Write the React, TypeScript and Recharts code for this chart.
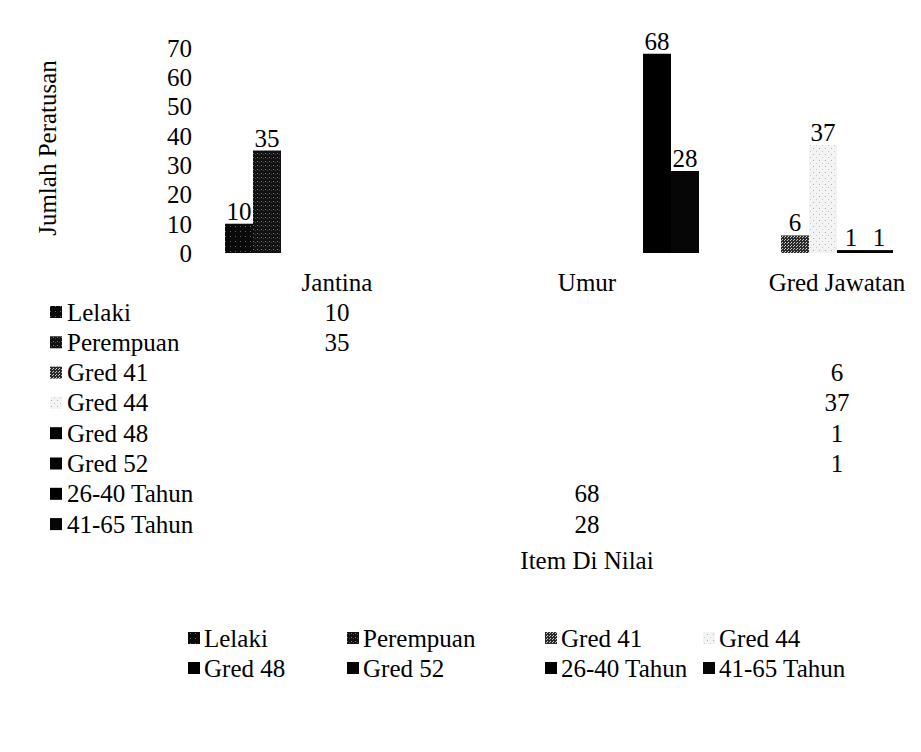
import React from 'react';
import { BarChart, Bar, XAxis, YAxis, LabelList, Legend, Customized } from 'recharts';

// ---------- data ----------
const categories = ['Jantina', 'Umur', 'Gred Jawatan'];
const seriesNames = ['Lelaki', 'Perempuan', 'Gred 41', 'Gred 44', 'Gred 48', 'Gred 52', '26-40 Tahun', '41-65 Tahun'];
const lelaki = [10, null, null];
const perempuan = [35, null, null];
const gred41 = [null, null, 6];
const gred44 = [null, null, 37];
const gred48 = [null, null, 1];
const gred52 = [null, null, 1];
const tahun2640 = [null, 68, null];
const tahun4165 = [null, 28, null];
const yTicks = [0, 10, 20, 30, 40, 50, 60, 70];
const yTitle = 'Jumlah Peratusan';
const xTitle = 'Item Di Nilai';

const seriesValues = [lelaki, perempuan, gred41, gred44, gred48, gred52, tahun2640, tahun4165];

// ---------- styles ----------
const seriesFills = [
  'url(#patLelaki)',
  'url(#patPerempuan)',
  'url(#patGred41)',
  'url(#patGred44)',
  '#000000',
  '#050505',
  '#000000',
  '#060606',
];
const FONT = 'Liberation Serif, Times New Roman, Times, serif';
const FS = 25;
const CHART_W = 954;
const CHART_H = 700;
const MARGIN_TOP = 40;
const X_AXIS_H = 455;
const PLOT_BOTTOM = CHART_H - X_AXIS_H;
const ROW0 = 59;
const ROW_STEP = 30.3;

const data = categories.map((c, i) => {
  const row: Record<string, any> = { category: c };
  seriesValues.forEach((vals, s) => {
    row['s' + s] = vals[i];
  });
  return row;
});

const textStyle = { fontFamily: FONT, fontSize: FS, fill: '#000' };

const T = (p: any) => (
  <text fontFamily={FONT} fontSize={FS} fill="#000" style={textStyle} dominantBaseline="central" {...p} />
);

const CategoryTick = (props: any) => {
  const { x, y, payload } = props;
  const i = categories.indexOf(payload.value);
  return (
    <g>
      <T x={x} y={y + 29} textAnchor="middle">
        {payload.value}
      </T>
      {seriesValues.map((vals, s) =>
        vals[i] == null ? null : (
          <T key={s} x={x} y={y + ROW0 + ROW_STEP * s} textAnchor="middle">
            {vals[i]}
          </T>
        )
      )}
    </g>
  );
};

const Extras = () => (
  <g>
    <defs>
      <pattern id="patLelaki" width="5" height="5" patternUnits="userSpaceOnUse">
        <rect width="5" height="5" fill="#0a0a0a" />
        <rect x="2" y="3" width="1" height="1" fill="#666" />
      </pattern>
      <pattern id="patPerempuan" width="4" height="4" patternUnits="userSpaceOnUse">
        <rect width="4" height="4" fill="#111" />
        <rect x="1" y="1" width="1" height="1" fill="#777" />
        <rect x="3" y="2" width="1" height="1" fill="#444" />
      </pattern>
      <pattern id="patGred41" width="3" height="3" patternUnits="userSpaceOnUse">
        <rect width="3" height="3" fill="#2a2a2a" />
        <rect x="0" y="0" width="1" height="1" fill="#d0d0d0" />
        <rect x="2" y="1" width="1" height="1" fill="#bbbbbb" />
      </pattern>
      <pattern id="patGred44" width="6" height="6" patternUnits="userSpaceOnUse">
        <rect width="6" height="6" fill="#f3f3f3" />
        <rect x="1" y="2" width="1" height="1" fill="#b0b0b0" />
        <rect x="4" y="5" width="1" height="1" fill="#c8c8c8" />
      </pattern>
    </defs>
    <T x={39} y={140} transform="rotate(-90 39 140)" textAnchor="middle">
      {yTitle}
    </T>
    {seriesNames.map((name, s) => {
      const cy = PLOT_BOTTOM + ROW0 + ROW_STEP * s;
      return (
        <g key={name}>
          <rect x={42} y={cy - 6} width={12} height={12} fill={seriesFills[s]} />
          <T x={59} y={cy}>
            {name}
          </T>
        </g>
      );
    })}
    <T x={579} y={552} textAnchor="middle">
      {xTitle}
    </T>
  </g>
);

const legendCols = [10, 169, 367, 525];
const legendRows = [18, 48];

const LegendContent = () => (
  <svg width={700} height={70} style={{ display: 'block' }}>
    {seriesNames.map((name, i) => {
      const x = legendCols[i % 4];
      const y = legendRows[Math.floor(i / 4)];
      return (
        <g key={name}>
          <rect x={x} y={y - 6} width={12} height={12} fill={seriesFills[i]} />
          <T x={x + 16} y={y}>
            {name}
          </T>
        </g>
      );
    })}
  </svg>
);

export default function App() {
  return (
    <div style={{ width: 905, height: CHART_H, overflow: 'hidden', background: '#fff', fontFamily: FONT }}>
      <BarChart
        width={CHART_W}
        height={CHART_H}
        data={data}
        margin={{ top: MARGIN_TOP, right: 0, bottom: 0, left: 0 }}
        barGap={0}
        barCategoryGap={13}
      >
        <Customized component={Extras} />
        <XAxis
          dataKey="category"
          axisLine={false}
          tickLine={false}
          tickSize={0}
          tickMargin={0}
          height={X_AXIS_H}
          interval={0}
          tick={<CategoryTick />}
        />
        <YAxis
          domain={[0, 70]}
          ticks={yTicks}
          interval={0}
          axisLine={false}
          tickLine={false}
          tickSize={0}
          tickMargin={20}
          width={204}
          tick={{ fontFamily: FONT, fontSize: FS, fill: '#000' }}
        />
        <Legend
          layout="horizontal"
          verticalAlign="middle"
          align="center"
          wrapperStyle={{ top: 612, left: 170, width: 700, height: 70 }}
          content={<LegendContent />}
        />
        {seriesNames.map((name, s) => (
          <Bar
            key={name}
            dataKey={'s' + s}
            name={name}
            fill={seriesFills[s]}
            isAnimationActive={false}
          >
            <LabelList
              dataKey={'s' + s}
              position="top"
              offset={4}
              style={{ fontFamily: FONT, fontSize: FS, fill: '#000' }}
            />
          </Bar>
        ))}
      </BarChart>
    </div>
  );
}
